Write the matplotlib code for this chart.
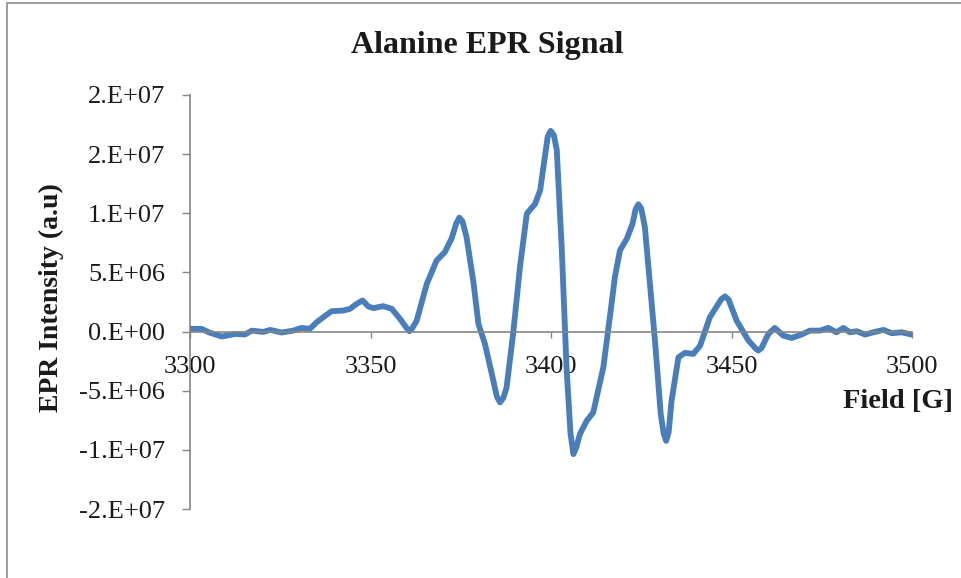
import numpy as np
import matplotlib.pyplot as plt
from matplotlib.patches import Rectangle
from matplotlib.ticker import FuncFormatter

# Campo magnetico (G) e intensidad EPR (en unidades de 1e6)
campo = [3300, 3303.2, 3305.5, 3308.8, 3312.5, 3315.2, 3317.1, 3320.3, 3322.2, 3325.4,
         3328.6, 3330.9, 3333.2, 3335.1, 3336.9, 3339.2, 3342.5, 3344.3, 3346.2, 3347.8,
         3349.4, 3350.8, 3353.5, 3355.9, 3358.2, 3360.0, 3360.8, 3361.6, 3362.8, 3365.6,
         3368.3, 3370.6, 3372.5, 3373.7, 3374.6, 3375.5, 3376.6, 3378.5, 3379.9, 3381.7,
         3383.6, 3385.0, 3385.9, 3386.8, 3387.7, 3389.6, 3391.4, 3393.3, 3395.6, 3397.0,
         3398.3, 3399.1, 3399.9, 3400.8, 3401.6, 3403.0, 3404.3, 3405.4, 3406.2, 3407.0,
         3408.0, 3409.9, 3411.7, 3414.5, 3416.3, 3417.7, 3419.1, 3421.0, 3422.6, 3423.4,
         3424.2, 3425.0, 3426.0, 3427.4, 3428.8, 3430.4, 3431.2, 3431.9, 3432.6, 3433.4,
         3435.3, 3437.1, 3439.4, 3441.3, 3444.0, 3447.2, 3448.2, 3449.2, 3451.4, 3454.7,
         3456.6, 3457.4, 3458.3, 3460.2, 3462.0, 3464.3, 3466.7, 3469.4, 3471.7, 3474.5,
         3476.8, 3479.1, 3481.0, 3482.8, 3484.7, 3487.0, 3489.3, 3492.1, 3494.4, 3497.1,
         3499.9]
intensidad = [0.23, 0.23, -0.1, -0.42, -0.2, -0.25, 0.08, -0.03, 0.14, -0.08,
              0.08, 0.31, 0.23, 0.79, 1.21, 1.72, 1.78, 1.92, 2.35, 2.63,
              2.12, 1.98, 2.15, 1.92, 1.07, 0.3, 0.03, 0.3, 0.93, 4.04,
              6.0, 6.72, 7.9, 9.1, 9.63, 9.3, 8.0, 4.2, 0.65, -1.04,
              -3.58, -5.5, -5.99, -5.6, -4.72, 0.08, 5.45, 9.97, 10.8, 11.95,
              14.77, 16.5, 16.97, 16.6, 15.34, 6.86, -3.02, -8.6, -10.36, -9.8,
              -8.67, -7.54, -6.84, -3.02, 1.21, 4.6, 6.86, 7.85, 9.13, 10.3,
              10.76, 10.4, 8.84, 4.04, -0.76, -6.98, -8.6, -9.24, -8.5, -5.85,
              -2.18, -1.8, -1.89, -1.19, 1.21, 2.75, 2.97, 2.7, 0.93, -0.76,
              -1.4, -1.61, -1.4, -0.2, 0.31, -0.34, -0.54, -0.25, 0.08, 0.08,
              0.31, -0.06, 0.31, -0.06, 0.03, -0.25, -0.06, 0.14, -0.14, -0.06,
              -0.25]

x_ticks = [3300, 3350, 3400, 3450, 3500]
y_ticks = [-1.5e7, -1e7, -5e6, 0, 5e6, 1e7, 1.5e7, 2e7]

plt.rcParams['font.family'] = ['Liberation Serif', 'DejaVu Serif']

fig = plt.figure(figsize=(9.61, 5.78), dpi=100)
ax = fig.add_axes([190/961, 1-509/578, 722/961, 414/578])

# marco gris del grafico
fig.patches.append(Rectangle((7/961, -0.1), 1.2, 1-3/578+0.1, transform=fig.transFigure,
                             fill=False, edgecolor='#8c8c8c', linewidth=1.2))

ax.plot(campo, np.array(intensidad)*1e6, color='#4A7EBB', linewidth=4.2,
        solid_joinstyle='round', solid_capstyle='round')

ax.set_xlim(3300, 3500)
ax.set_ylim(-1.5e7, 2e7)
ax.set_xticks(x_ticks)
ax.set_yticks(y_ticks)
ax.yaxis.set_major_formatter(FuncFormatter(lambda v, p: f"{v:#.0E}"))

for s in ['top', 'right']:
    ax.spines[s].set_visible(False)
ax.spines['bottom'].set_position(('data', 0))
for s in ['left', 'bottom']:
    ax.spines[s].set_color('#868686')
    ax.spines[s].set_linewidth(1.2)
ax.tick_params(axis='x', direction='out', length=4, width=1, color='#868686',
               labelsize=19, pad=13.5, labelcolor='#1a1a1a')
ax.tick_params(axis='y', direction='out', length=6, width=1, color='#868686',
               labelsize=19, pad=12, labelcolor='#1a1a1a')
ax.patch.set_visible(False)

fig.text(487/961, 1-45/578, 'Alanine EPR Signal', ha='center', va='center',
         fontsize=23, fontweight='bold', color='#1a1a1a')
fig.text(843/961, 1-402/578, 'Field [G]', ha='left', va='center',
         fontsize=20.5, fontweight='bold', color='#1a1a1a')
fig.text(51/961, 1-298/578, 'EPR Intensity (a.u)', ha='center', va='center',
         rotation=90, fontsize=20, fontweight='bold', color='#1a1a1a')

plt.savefig('out.png', dpi=100)
